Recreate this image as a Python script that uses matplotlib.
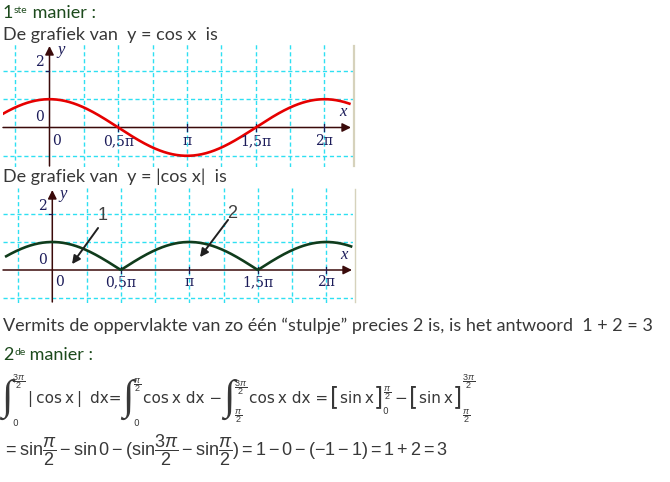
import matplotlib
matplotlib.use('Agg')
import matplotlib.pyplot as plt
import numpy as np

W, H = 670, 482

plt.rcParams['mathtext.fontset'] = 'custom'
plt.rcParams['mathtext.rm'] = 'Liberation Sans'
plt.rcParams['mathtext.it'] = 'Liberation Sans:italic'
plt.rcParams['mathtext.bf'] = 'Liberation Sans:bold'

COLORS = {
    'title': '#1c4a1c',
    'text':  '#383838',
    'grid':  '#2ee0f2',
    'axis':  '#3a0a0a',
    'tick':  '#1c1c5a',
    'cos':   '#e60000',
    'abs':   '#103c1c',
    'arrow': '#202020',
    'frame': '#d6d2bc',
}

# x in units of pi
x_curve = np.linspace(-0.345, 2.19, 500)
y_cos = np.cos(np.pi * x_curve)
y_abs = np.abs(np.cos(np.pi * x_curve))

xtick_pos = [0, 0.5, 1, 1.5, 2]
xtick_lbl = ['0', '0,5π', 'π', '1,5π', '2π']
grid_x = [-0.25, 0.25, 0.5, 0.75, 1.0, 1.25, 1.5, 1.75, 2.0]
grid_y = [-1, 1, 2]

stulp_lbl = ['1', '2']
stulp_tail = [(0.334, 1.50), (1.283, 1.79)]
stulp_tip = [(0.144, 0.21), (1.078, 0.46)]
stulp_txt = [(0.370, 1.96), (1.310, 2.00)]

fig = plt.figure(figsize=(W / 100, H / 100), dpi=100, facecolor='white')


def px_axes(box, origin, scale):
    # box = (left, top, right, bottom) in pixels; origin = pixel of (0,0); scale = px per unit
    x0, y0, x1, y1 = box
    ax = fig.add_axes([x0 / W, 1 - y1 / H, (x1 - x0) / W, (y1 - y0) / H])
    ax.set_xlim((x0 - origin[0]) / scale[0], (x1 - origin[0]) / scale[0])
    ax.set_ylim((origin[1] - y1) / scale[1], (origin[1] - y0) / scale[1])
    ax.axis('off')
    return ax


def draw_frame(ax, y_curve, color, xtip, ybot, ytop, lbl_dy, two_dy):
    for g in grid_x:
        ax.axvline(g, color=COLORS['grid'], lw=1.0, ls=(0, (3, 2)), zorder=1)
    for g in grid_y:
        ax.axhline(g, color=COLORS['grid'], lw=1.0, ls=(0, (3, 2)), zorder=1)
    xl = ax.get_xlim()
    # axes with arrow heads
    ax.annotate('', xy=(xtip, 0), xytext=(xl[0], 0),
                arrowprops=dict(arrowstyle='-|>', color=COLORS['axis'], lw=1.1,
                                mutation_scale=13, shrinkA=0, shrinkB=0), zorder=3)
    ax.annotate('', xy=(0, ytop), xytext=(0, ybot),
                arrowprops=dict(arrowstyle='-|>', color=COLORS['axis'], lw=1.1,
                                mutation_scale=13, shrinkA=0, shrinkB=0), zorder=3)
    for p in xtick_pos[1:]:
        ax.plot([p, p], [-0.12, 0.12], color=COLORS['tick'], lw=0.9, zorder=3)
    ax.plot([-0.025, 0.0], [2, 2], color=COLORS['tick'], lw=0.9, zorder=3)
    ax.plot(x_curve, y_curve, color=color, lw=1.9, zorder=4, solid_capstyle='butt')
    tfont = dict(fontsize=10, family='DejaVu Serif', color=COLORS['tick'])
    for p, l in zip(xtick_pos, xtick_lbl):
        ha = 'left' if p == 0 else 'center'
        ax.annotate(l, (p, 0), xytext=(2 if p == 0 else 0, lbl_dy), textcoords='offset points',
                    ha=ha, va='center', zorder=5, **tfont)
    ax.annotate('2', (0, 2), xytext=(-7, two_dy), textcoords='offset points', ha='center',
                va='center', **tfont)
    ax.annotate('0', (0, 0), xytext=(-7, 7.5), textcoords='offset points', ha='center',
                va='center', **tfont)
    ax.annotate('y', (0, ytop), xytext=(8, -3), textcoords='offset points', ha='center',
                va='center', fontsize=12, style='italic', family='Liberation Serif',
                color=COLORS['tick'])
    ax.annotate('x', (xtip, 0), xytext=(-6, 11), textcoords='offset points', ha='center',
                va='center', fontsize=12, style='italic', family='Liberation Serif',
                color=COLORS['tick'])


# ---- plot 1: y = cos x ----
ax1 = px_axes((3, 44, 353, 167), (49.5, 127.5), (137.5, 28.3))
draw_frame(ax1, y_cos, COLORS['cos'], (351 - 49.5) / 137.5,
           (127.5 - 166) / 28.3, (127.5 - 46) / 28.3, -10, 6.5)

# ---- plot 2: y = |cos x| ----
ax2 = px_axes((3, 188, 353, 303), (52.3, 270), (137, 28))
draw_frame(ax2, y_abs, COLORS['abs'], (352 - 52.3) / 137,
           (270 - 302) / 28, (270 - 190) / 28, -9, 6)
for l, t0, t1, tp in zip(stulp_lbl, stulp_tail, stulp_tip, stulp_txt):
    ax2.annotate('', xy=t1, xytext=t0,
                 arrowprops=dict(arrowstyle='-|>', color=COLORS['arrow'], lw=1.4,
                                 mutation_scale=12, shrinkA=0, shrinkB=0), zorder=6)
    ax2.text(tp[0], tp[1], l, ha='center', va='center', fontsize=13,
             family='Liberation Sans', color='#404040', zorder=6)

# ---- text overlay in pixel coordinates ----
top = fig.add_axes([0, 0, 1, 1])
top.set_xlim(0, W)
top.set_ylim(H, 0)
top.axis('off')
top.patch.set_alpha(0)

top.plot([353.5, 353.5], [46, 166], color=COLORS['frame'], lw=1.6)
top.plot([354.5, 354.5], [189, 302], color=COLORS['frame'], lw=1.0)

body = dict(family='Lato', fontsize=13, va='baseline', ha='left')


def heading(y, num, sup):
    t1 = top.text(3, y, num, color=COLORS['title'], **body)
    t2 = top.annotate(sup, xy=(1, 1), xycoords=t1, xytext=(0.5, -1), textcoords='offset points',
                      va='top', ha='left', fontsize=7.5, family='Lato', color=COLORS['title'])
    top.annotate(' manier :', xy=(1, 0), xycoords=(t2, t1), va='bottom', ha='left',
                 fontsize=13, family='Lato', color=COLORS['title'])


heading(18, '1', 'ste')
top.text(3, 40, 'De grafiek van  y = cos x  is', color=COLORS['text'], **body)
top.text(3, 182, 'De grafiek van  y = |cos x|  is', color=COLORS['text'], **body)
top.text(3, 331, 'Vermits de oppervlakte van zo één \u201cstulpje\u201d precies 2 is, '
         'is het antwoord  1 + 2 = 3', color=COLORS['text'], **body)
heading(360, '2', 'de')

# ---- formula line 1, built from pieces so integrals and brackets can be tall ----
BASE = 403
FS = 11
fml = dict(family='DejaVu Sans', color=COLORS['text'])
int_font = dict(family=['Liberation Serif', 'DejaVu Sans'], color=COLORS['text'])


def nxt(prev, s, dx=0, dy=0, fs=FS, font=fml):
    return top.annotate(s, xy=(1, BASE + dy), xycoords=(prev, 'data'), xytext=(dx, 0),
                        textcoords='offset pixels', ha='left', va='baseline', fontsize=fs, **font)


def limits(sym, upper, lower, utop, ltop, udx, ldx):
    u = top.annotate(upper, xy=(1, utop), xycoords=(sym, 'data'), xytext=(udx, 0),
                     textcoords='offset pixels', ha='left', va='top', fontsize=6.5, **fml)
    lo = top.annotate(lower, xy=(1, ltop), xycoords=(sym, 'data'), xytext=(ldx, 0),
                      textcoords='offset pixels', ha='left', va='top', fontsize=6.5, **fml)
    return u, lo


HALF = r'$\dfrac{\pi}{2}$'
THREE = r'$\dfrac{3\pi}{2}$'
INT_FS, INT_DY = 30, 6
BR_FS, BR_DY = 17, 1
TS = '\u2009'

i1 = top.text(1, BASE + INT_DY, '\u222b', fontsize=INT_FS, ha='left', va='baseline', **int_font)
p, _ = limits(i1, THREE, '0', 372, 419, 0, 0)
p = nxt(p, '|' + TS + 'cos' + TS + 'x' + TS + '| ' + TS + 'dx=', dx=2)
i2 = nxt(p, '\u222b', dx=1, dy=INT_DY, fs=INT_FS, font=int_font)
p, _ = limits(i2, HALF, '0', 376, 419, 0, 0)
p = nxt(p, 'cos' + TS + 'x dx \u2212', dx=1)
i3 = nxt(p, '\u222b', dx=1, dy=INT_DY, fs=INT_FS, font=int_font)
p, _ = limits(i3, THREE, HALF, 378, 407, 0, 0)
p = nxt(p, 'cos' + TS + 'x dx =', dx=2)
for k, (u, l, ut) in enumerate([(HALF, '0', 384), (THREE, HALF, 372)]):
    b = nxt(p, '[', dx=2, dy=BR_DY, fs=BR_FS)
    p = nxt(b, 'sin' + TS + 'x', dx=0)
    b = nxt(p, ']', dx=0, dy=BR_DY, fs=BR_FS)
    p, lo = limits(b, u, l, ut, 407, 0, 0)
    if k == 0:
        p = nxt(p, '\u2212', dx=4)

f2 = (r'$=\mathrm{sin}\dfrac{\pi}{2} - \mathrm{sin}\,0 - (\mathrm{sin}\dfrac{3\pi}{2} - '
      r'\mathrm{sin}\dfrac{\pi}{2}) = 1 - 0 - (-1 - 1) = 1 + 2 = 3$')
top.text(3, 456, f2, color=COLORS['text'], fontsize=13, va='baseline', ha='left')

fig.savefig('out.png', dpi=100, facecolor='white')
